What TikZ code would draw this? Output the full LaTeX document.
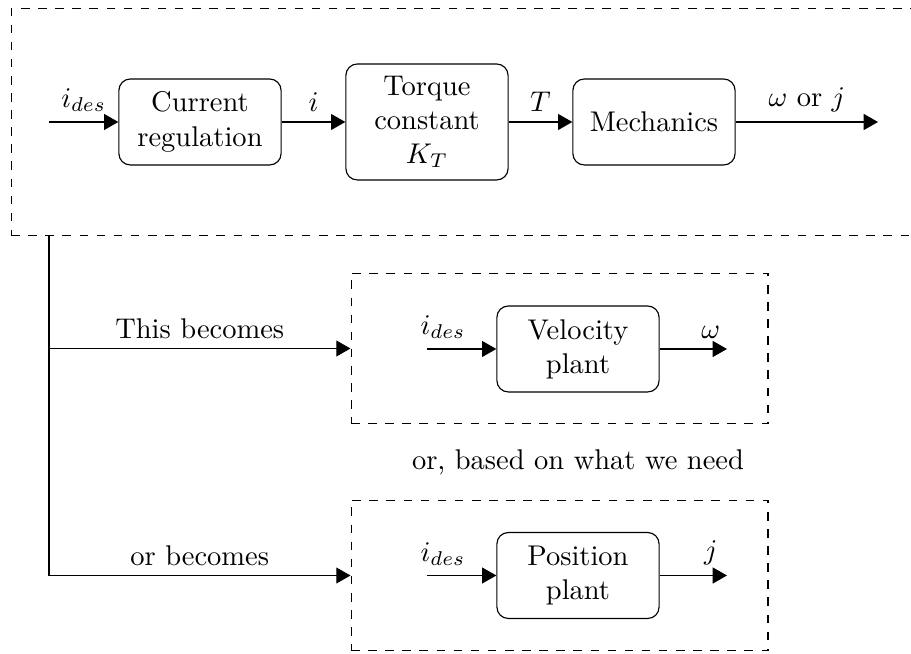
\documentclass[tikz,border=0pt]{standalone}
\usepackage{amsmath}
\usepackage{amssymb}
\usetikzlibrary{arrows.meta, positioning}

\begin{document}
\begin{tikzpicture}[
    block/.style={draw, rounded corners, align=center, minimum width=2cm, minimum height=1.06cm},
    sysbox/.style={draw, dashed, minimum width=5.14cm, minimum height=1.86cm},
    sig/.style={-{Triangle[length=5pt, width=5.6pt]}}
  ]
  \useasboundingbox (0,0) rectangle (11.233,-8.052);

  % full motor model
  \node[draw, dashed, minimum width=11.16cm, minimum height=2.79cm] (motor) at (5.718,-1.504) {};
  \coordinate (in) at (0.604,-1.504);
  \node[block] (cur) at (2.466,-1.504) {Current\\regulation};
  \node[block, minimum height=1.43cm] (kt) at (5.265,-1.504) {Torque\\constant\\$K_T$};
  \node[block] (mech) at (8.064,-1.504) {Mechanics};
  \coordinate (out) at (10.826,-1.504);

  \draw[sig] (in) -- node[above] {$i_{des}$} (cur);
  \draw[sig] (cur) -- node[above] {$i$} (kt);
  \draw[sig] (kt) -- node[above] {$T$} (mech);
  \draw[sig] (mech) -- node[above] {$\omega$ or $j$} (out);

  % simplified plants
  \node[sysbox] (velsys) at (6.899,-4.297) {};
  \node[sysbox] (possys) at (6.899,-7.096) {};

  \node[block] (vel) at (7.127,-4.303) {Velocity\\plant};
  \coordinate (velin) at (5.265,-4.303);
  \coordinate (velout) at (8.964,-4.303);
  \draw[sig] (velin) -- node[above, pos=0.23] {$i_{des}$} (vel);
  \draw[sig] (vel) -- node[above, pos=0.76] {$\omega$} (velout);

  \node (note) at (7.127,-5.697) {or, based on what we need};

  \node[block] (pos) at (7.127,-7.096) {Position\\plant};
  \coordinate (posin) at (5.265,-7.096);
  \coordinate (posout) at (8.964,-7.096);
  \draw[sig] (posin) -- node[above, pos=0.23] {$i_{des}$} (pos);
  \draw[sig] (pos) -- node[above, pos=0.76] {$j$} (posout);

  % branches
  \coordinate (split) at (0.604,-2.898);
  \draw[sig] (split) |- node[above, pos=0.75] {This becomes} (velsys.west);
  \draw[sig] (split) |- node[above, pos=0.75] {or becomes} (possys.west);
\end{tikzpicture}
\end{document}
